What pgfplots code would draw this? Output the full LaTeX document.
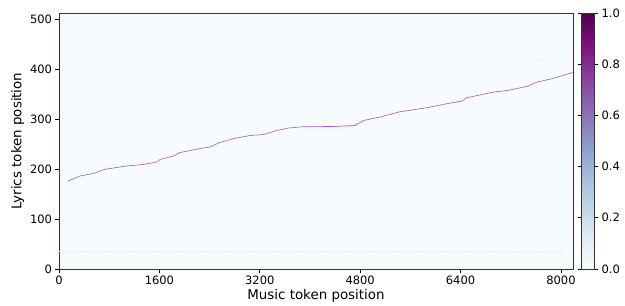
\documentclass[border=0pt]{standalone}
\usepackage{fontspec}
\setmainfont{DejaVu Sans}
\usepackage{pgfplots}
\pgfplotsset{compat=1.18}
\definecolor{bg}{HTML}{F6FBFD}
\definecolor{linec}{RGB}{165,100,185}
\definecolor{faint}{HTML}{E4ECF4}
\pgfplotstableread{
x y
139 175.5
335 186
548 191
734 199.5
1080 206
1345 209
1558 214
1611 219
1823 226
1930 233
2249 241
2408 244
2541 252
2780 260.7
3046 267
3258 269
3472 277
3657 282
3900 284.6
4375 285
4721 287
4853 297
5120 304
5412 314
5864 322.6
6183 330.6
6422 335.9
6502 342.6
6926 353.9
7140 357
7459 365
7618 373.8
7831 379.8
8192 393
}\attn
\begin{document}
\begin{tikzpicture}
\begin{axis}[
  scale only axis,
  width=514pt, height=256pt,
  xmin=0, xmax=8192, ymin=0, ymax=512,
  xtick={0,1600,3200,4800,6400,8000},
  ytick={0,100,200,300,400,500},
  tick align=outside,
  tick style={black, line width=0.7pt},
  major tick length=3.5pt,
  xtick pos=bottom, ytick pos=left,
  axis line style={black!80, line width=0.7pt},
  axis background/.style={fill=bg},
  /pgf/number format/assume math mode=true,
  /pgf/number format/1000 sep={},
  ticklabel style={font=\fontsize{11.5}{13}\selectfont},
  xlabel={Music token position},
  ylabel={Lyrics token position},
  label style={font=\fontsize{13.4}{15}\selectfont},
  xlabel style={yshift=2pt},
  ylabel style={yshift=-1pt},
  colormap={bupu}{
    rgb255=(247,252,253)
    rgb255=(224,236,244)
    rgb255=(191,211,230)
    rgb255=(158,188,218)
    rgb255=(140,150,198)
    rgb255=(140,107,177)
    rgb255=(136,65,157)
    rgb255=(129,15,124)
    rgb255=(77,0,75)
  },
  point meta min=0, point meta max=1,
  colorbar,
  colorbar style={
    at={([xshift=8pt]parent axis.north east)}, anchor=north west,
    width=13pt, height=256pt, scale only axis,
    ytick={0,0.2,0.4,0.6,0.8,1.0},
    yticklabel style={font=\fontsize{11.5}{13}\selectfont,
      /pgf/number format/fixed, /pgf/number format/fixed zerofill,
      /pgf/number format/precision=1},
    /pgf/number format/assume math mode=true,
    tick align=outside, major tick length=3.5pt,
    tick style={black, line width=0.7pt},
    axis line style={black!80, line width=0.7pt},
  },
]
\addplot[faint, line width=0.4pt, dash pattern=on 2pt off 1pt, forget plot] coordinates {(0,35) (8000,35)};
\addplot[faint, line width=1.2pt, forget plot] coordinates {(3950,283) (4700,284)};
\addplot[faint, line width=0.5pt, forget plot] coordinates {(3950,278) (4500,279)};
\addplot[faint, line width=0.5pt, forget plot] coordinates {(6300,333) (6400,333)};
\addplot[faint, line width=0.5pt, forget plot] coordinates {(7600,418) (7800,422)};
\addplot[linec, line width=0.65pt, point meta=0.7] table[x=x, y=y] {\attn};
\end{axis}
\path[use as bounding box] (current axis.south west) ++(-59pt,-35pt) rectangle ++(625pt,304pt);
\end{tikzpicture}
\end{document}
